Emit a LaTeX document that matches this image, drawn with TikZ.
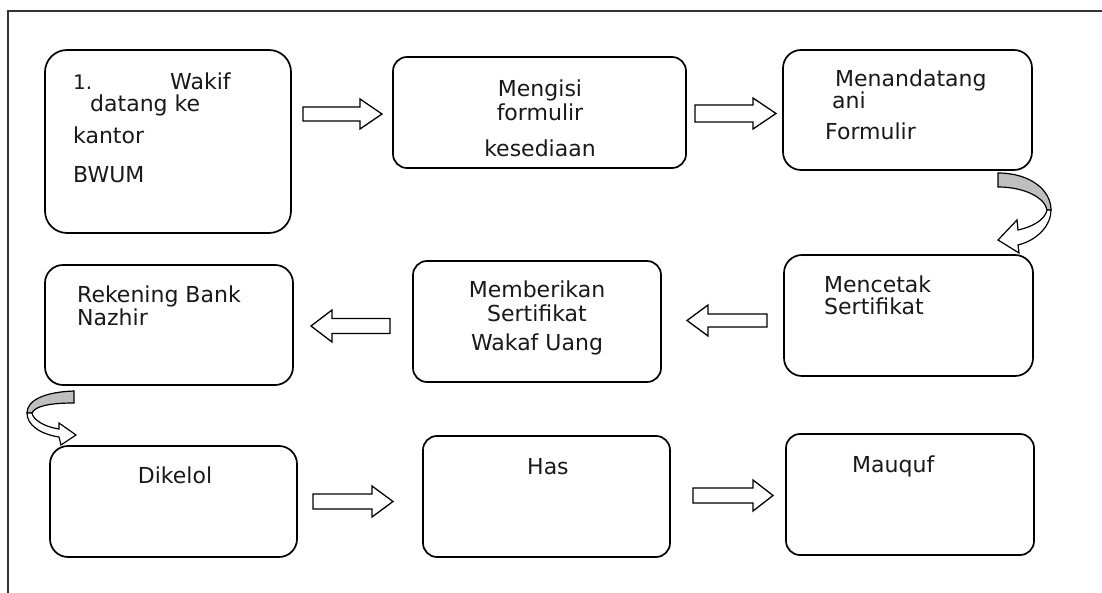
\documentclass[tikz,border=0pt]{standalone}
\usepackage{fontspec}
\setmainfont{DejaVu Sans}
\newcommand\blockarr[6]{%
  \draw[barrow] (#1,#3-#4) -- ({#2-(#6)},#3-#4) -- ({#2-(#6)},#3-#5) -- (#2,#3)
    -- ({#2-(#6)},#3+#5) -- ({#2-(#6)},#3+#4) -- (#1,#3+#4) -- cycle;}
\begin{document}
\begin{tikzpicture}[x=1pt,y=-1pt,
  box/.style={draw=black, line width=1.7pt, rounded corners=18pt, fill=white, inner sep=0pt},
  txt/.style={anchor=base west, inner sep=0pt, font=\fontsize{22}{26}\selectfont, text=black!90},
  txtc/.style={txt, anchor=base},
  barrow/.style={draw=black, line width=1.3pt, fill=white, line join=miter},
  gband/.style={draw=black, line width=1.2pt, fill=black!25},
  wband/.style={draw=black, line width=1.2pt, fill=white}]
\useasboundingbox (0,0) rectangle (1102,593);
% frame
\draw[black!80, line width=1.4pt] (8,593) -- (8,11) -- (1102,11);
% boxes
\node[box, minimum width=246pt, minimum height=183pt, rounded corners=22pt] (A) at (168,141.5) {};
\node[box, minimum width=293pt, minimum height=111pt, rounded corners=14pt] (B) at (539.5,112.5) {};
\node[box, minimum width=249pt, minimum height=120pt] (C) at (907.5,110) {};
\node[box, minimum width=249pt, minimum height=121pt] (D) at (908.5,315.5) {};
\node[box, minimum width=248pt, minimum height=121pt, rounded corners=14pt] (E) at (537,321.5) {};
\node[box, minimum width=248pt, minimum height=120pt] (F) at (169,325) {};
\node[box, minimum width=247pt, minimum height=111pt] (G) at (173.5,501.5) {};
\node[box, minimum width=247pt, minimum height=121pt, rounded corners=14pt] (H) at (546.5,496.5) {};
\node[box, minimum width=248pt, minimum height=121pt, rounded corners=14pt] (I) at (910,494.5) {};
% texts
\node[txt, font=\fontsize{20}{24}\selectfont] (a0) at (73,90) {1.};
\node[txt] (a1) at (170,90) {Wakif};
\node[txt] (a2) at (90,112) {datang ke};
\node[txt] (a3) at (73,144) {kantor};
\node[txt] (a4) at (73,183) {BWUM};
\node[txtc] (b1) at (540,97) {Mengisi};
\node[txtc] (b2) at (540,121) {formulir};
\node[txtc] (b3) at (540,157) {kesediaan};
\node[txt] (c1) at (835,87) {Menandatang};
\node[txt] (c2) at (832,109) {ani};
\node[txt] (c3) at (825,140) {Formulir};
\node[txt] (d1) at (824,293) {Mencetak};
\node[txt] (d2) at (824,315) {Sertifikat};
\node[txtc] (e1) at (537,298) {Memberikan};
\node[txtc] (e2) at (537,322) {Sertifikat};
\node[txtc] (e3) at (537,350) {Wakaf Uang};
\node[txt] (f1) at (77,303) {Rekening Bank};
\node[txt] (f2) at (77,325) {Nazhir};
\node[txtc] (g1) at (175,483) {Dikelol};
\node[txt] (h1) at (527,474) {Has};
\node[txt] (i1) at (852,472) {Mauquf};
% block arrows
\blockarr{303}{382}{114}{7}{15}{22}
\blockarr{695}{776}{113.5}{8.5}{15.5}{23}
\blockarr{767}{687}{320.5}{6.5}{15.5}{-21}
\blockarr{390}{311}{326}{7.5}{16}{-21}
\blockarr{313}{393}{501.5}{7.5}{15.5}{21}
\blockarr{693}{773}{495.5}{7.5}{15.5}{20}
% curved arrow C -> D
\draw[gband] (998,173) .. controls (1030,173) and (1051,190) .. (1051,210)
  -- (1047,210) .. controls (1045,198) and (1025,187) .. (998,187) -- cycle;
\draw[wband] (1047,210) .. controls (1045,220) and (1032,227) .. (1018,230)
  -- (1017,220) -- (998,240) -- (1019,253) -- (1018,245)
  .. controls (1038,240) and (1051,225) .. (1051,210) -- cycle;
% curved arrow F -> G
\draw[gband] (74,391) .. controls (45,392) and (27,400) .. (27,413)
  -- (32,413) .. controls (35,406) and (50,403) .. (74,403) -- cycle;
\draw[wband] (27,413) .. controls (27,425) and (40,434) .. (59,437)
  -- (61,445) -- (76,435) -- (59,423) -- (59,429)
  .. controls (45,427) and (33,420) .. (32,413) -- cycle;
\end{tikzpicture}
\end{document}
